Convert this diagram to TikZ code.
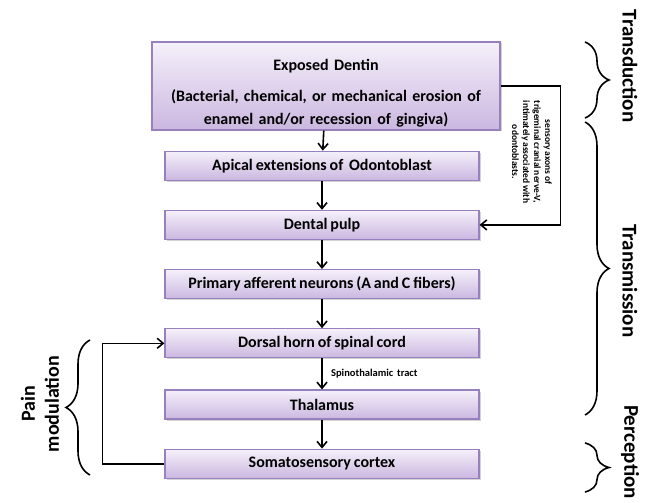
\documentclass[tikz,border=0pt]{standalone}
\usepackage{fontspec}
\setmainfont{Carlito}[WordSpace=0.8]
\usetikzlibrary{shapes,arrows,arrows.meta,shadows,calc}
\usetikzlibrary{positioning,decorations.pathreplacing}
\definecolor{boxTop}{RGB}{245,240,250}
\definecolor{boxBot}{RGB}{203,183,224}
\definecolor{boxLine}{RGB}{150,128,190}
\tikzstyle{box_style}=[draw=boxLine, line width=1.2pt, top color=boxTop, bottom color=boxBot,
anchor=center, text centered, font=\bfseries\fontsize{16}{19}\selectfont,
drop shadow={shadow xshift=1.5pt, shadow yshift=-1.5pt, opacity=0.35}]
\tikzstyle{stage}=[box_style, minimum width=314pt, minimum height=29pt]
\tikzstyle{myarrow}=[-{Straight Barb[length=6pt,width=10pt]}, line width=1.6pt]
\tikzstyle{mybrace}=[decorate, decoration={brace, amplitude=24pt}, line width=1.6pt]
\tikzstyle{phase}=[font=\bfseries\fontsize{21}{24}\selectfont]

\begin{document}
\begin{tikzpicture}[x=1pt, y=1pt, node distance=29pt]
		\useasboundingbox (0,0) rectangle (657,-503) ;

		\node[box_style, text width=340pt, minimum width=348pt, minimum height=88pt, align=center, inner ysep=1pt,
			font=\bfseries\fontsize{16}{23}\selectfont] (A) at (326,-86)
			{\rule{0pt}{25pt}Exposed Dentin\\[8pt](Bacterial, chemical, or mechanical erosion of\\enamel and/or recession of gingiva)} ;

		\node[stage, below=20pt of A, xshift=-4pt] (B) {Apical extensions of~ Odontoblast} ;
		\draw[myarrow] (A) -- (B) ;

		\node[stage, below=of B] (C) {Dental pulp} ;
		\draw[myarrow] (B) -- (C) ;

		\node[stage, below=of C] (D) {Primary afferent neurons (A and C fibers)} ;
		\draw[myarrow] (C) -- (D) ;

		\node[stage, below=of D] (E) {Dorsal horn of spinal cord} ;
		\draw[myarrow] (D) -- (E) ;

		\node[stage, below=31pt of E] (F) {Thalamus} ;
		\draw[myarrow] (E) -- node[right=5pt, font=\bfseries\fontsize{10.5}{12}\selectfont] (S) {Spinothalamic~ tract} (F) ;

		\node[stage, below=of F] (G) {Somatosensory cortex} ;
		\draw[myarrow] (F) -- (G) ;

		% trigeminal side path
		\draw[myarrow] (A.east) -- ++(60,0) |- (C.east) ;
		\node[rotate=-90, align=center, font=\bfseries\fontsize{9.5}{11}\selectfont] (N) at (532,-152)
			{sensory axons of\\trigeminal cranial nerve-V,\\intimately associated with\\odontoblasts.} ;

		% modulation loop
		\draw[myarrow] (G.west) -- ++(-62,0) |- (E.west) ;

		% phases
		\draw[mybrace] (585,-42) -- (585,-118) ;
		\node[phase, rotate=-90] (P1) at (630,-66) {Transduction} ;
		\draw[mybrace] (585,-122) -- (585,-415) ;
		\node[phase, rotate=-90] (P2) at (630,-281) {Transmission} ;
		\draw[mybrace] (585,-443) -- (585,-492) ;
		\node[phase, rotate=-90] (P3) at (630,-452) {Perception} ;

		\draw[mybrace] (90,-475) -- (90,-340) ;
		\node[phase, rotate=90, align=center, font=\bfseries\fontsize{20}{24}\selectfont] (P4) at (40,-404) {Pain\\modulation} ;
	\end{tikzpicture}
\end{document}
